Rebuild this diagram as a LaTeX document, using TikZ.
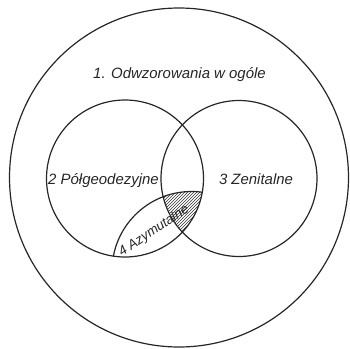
\documentclass[tikz,border=0pt]{standalone}
\usepackage{fontspec}
\setmainfont{Liberation Sans}
\begin{document}
\begin{tikzpicture}[x=1bp,y=-1bp,
  ring/.style={draw=black!85,line width=1.2pt},
  hatch/.style={draw=black!80,line width=0.5pt},
  lbl/.style={font=\fontsize{15}{15}\selectfont\itshape,inner sep=0pt,text=black!85}]
\useasboundingbox (0,0) rectangle (350,349);
\coordinate (c1) at (179,177.5);
\coordinate (c2) at (125,178.5);
\coordinate (c3) at (239,178.5);
\coordinate (c4) at (191.5,271);
% hatched region
\begin{scope}
  \clip (c2) circle[radius=78.5];
  \clip (c3) circle[radius=78];
  \clip (c4) circle[radius=79.5];
  \foreach \a in {100,103,...,260}{
    \draw[hatch] (\a,250) -- ({\a+70},180);
  }
\end{scope}
% circles
\draw[ring] (c1) circle[radius=169.5];
\draw[ring] (c2) circle[radius=78.5];
\draw[ring] (c3) circle[radius=78];
\begin{scope}
  \clip (c2) circle[radius=78.5];
  \draw[ring] (c4) circle[radius=79.5];
\end{scope}
% labels
\node[lbl] (l1) at (179.5,75) {1. Odwzorowania w ogóle};
\node[lbl] (l2) at (103.5,181) {2 Półgeodezyjne};
\node[lbl] (l3) at (256,179) {3 Zenitalne};
\node[lbl,font=\fontsize{13.5}{13.5}\selectfont\itshape,rotate=34] (l4) at (154,231) {4 Azymutalne};
\end{tikzpicture}
\end{document}
